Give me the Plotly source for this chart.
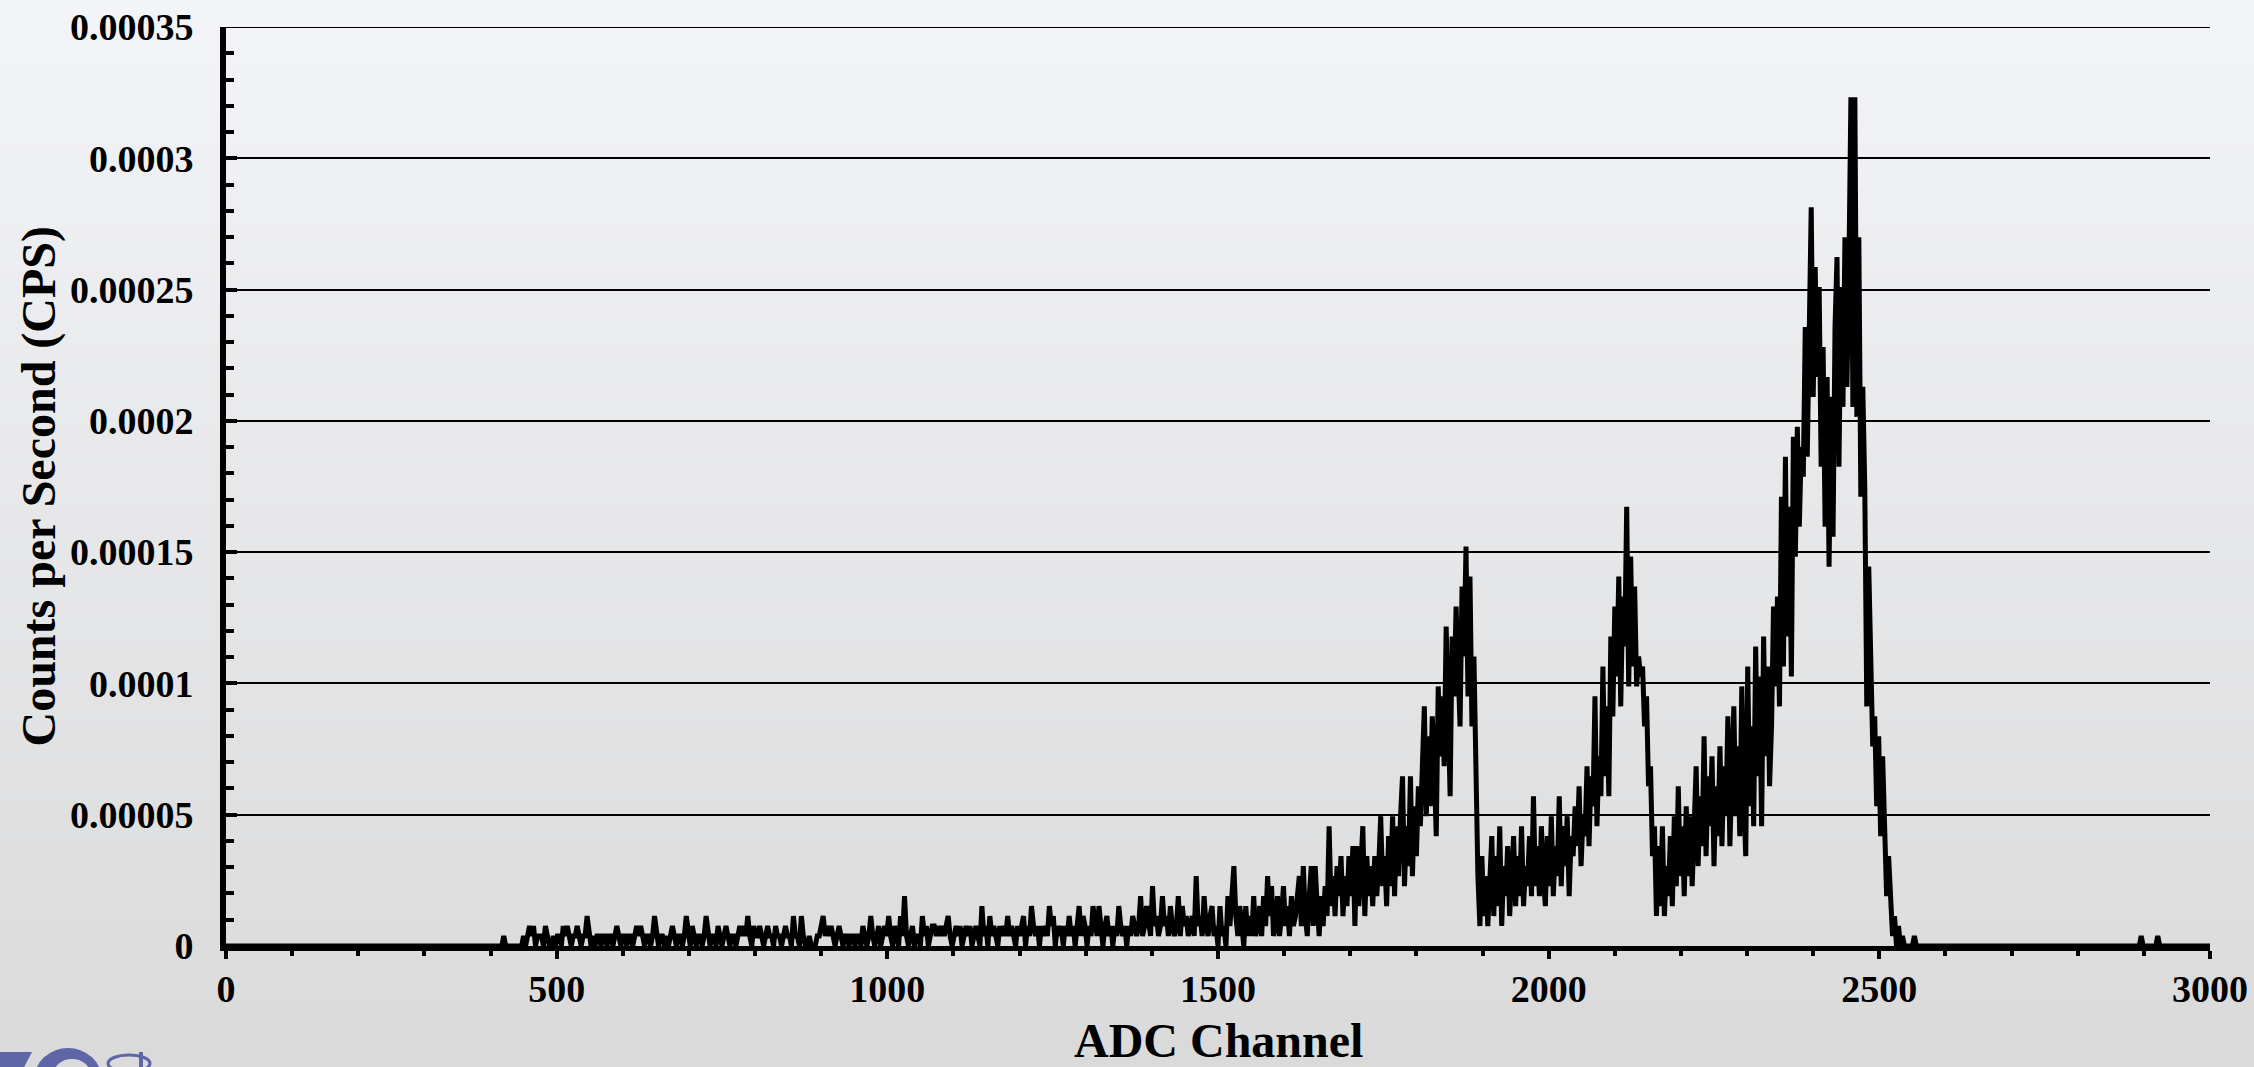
import plotly.graph_objects as go

# ---------------- data ----------------
live_time_s = 263000.0          # one count ~ 3.8e-6 CPS
main_start_channel = 417
channel_step = 3

# counts per sampled channel (every 3rd channel from 417 to 2559)
main_counts = [
    0, 1, 0, 0, 0, 0, 0, 0, 0, 0, 0, 1, 0, 1, 2, 1, 2, 0, 1, 1,
    1, 0, 2, 1, 0, 0, 1, 0, 1, 1, 0, 2, 1, 2, 1, 0, 1, 1, 2, 1,
    0, 1, 1, 3, 1, 0, 1, 0, 1, 1, 0, 1, 1, 0, 1, 1, 0, 1, 2, 1,
    0, 1, 1, 0, 1, 1, 0, 1, 2, 1, 2, 1, 0, 1, 1, 0, 1, 3, 1, 0,
    1, 1, 0, 1, 0, 1, 2, 1, 0, 1, 1, 0, 1, 3, 1, 0, 2, 1, 0, 1,
    1, 0, 1, 3, 1, 0, 1, 1, 0, 2, 1, 0, 1, 2, 1, 0, 1, 1, 0, 1,
    2, 1, 2, 1, 3, 1, 0, 2, 1, 1, 2, 1, 0, 1, 2, 1, 1, 0, 2, 1,
    1, 0, 1, 2, 1, 1, 0, 3, 1, 1, 0, 3, 1, 0, 0, 1, 0, 0, 0, 1,
    1, 2, 3, 1, 2, 1, 2, 1, 0, 1, 2, 1, 0, 1, 1, 0, 1, 1, 0, 1,
    1, 0, 2, 1, 0, 1, 3, 1, 0, 1, 2, 0, 1, 2, 1, 3, 1, 0, 2, 1,
    0, 3, 1, 5, 1, 0, 1, 2, 0, 1, 1, 0, 3, 1, 2, 0, 1, 2, 2, 1,
    2, 1, 2, 1, 2, 3, 1, 0, 1, 2, 1, 2, 0, 1, 2, 1, 2, 0, 1, 2,
    1, 0, 4, 1, 2, 0, 3, 1, 2, 1, 0, 2, 1, 2, 1, 3, 1, 2, 1, 0,
    2, 1, 2, 3, 0, 2, 1, 4, 2, 1, 2, 0, 2, 1, 2, 1, 4, 2, 3, 0,
    2, 1, 2, 0, 2, 1, 3, 1, 2, 0, 2, 4, 1, 3, 2, 0, 2, 1, 4, 2,
    1, 4, 2, 0, 2, 3, 1, 2, 0, 2, 1, 4, 2, 1, 2, 0, 2, 1, 3, 2,
    1, 2, 5, 1, 2, 4, 2, 1, 6, 2, 3, 1, 2, 5, 2, 3, 1, 4, 2, 1,
    2, 5, 1, 4, 2, 3, 1, 2, 3, 1, 7, 2, 3, 1, 5, 2, 1, 3, 4, 1,
    2, 0, 4, 1, 2, 0, 5, 2, 6, 8, 3, 1, 4, 2, 0, 4, 1, 3, 1, 5,
    1, 2, 4, 1, 5, 2, 7, 3, 6, 1, 2, 5, 1, 3, 6, 2, 4, 1, 5, 2,
    3, 5, 7, 2, 8, 3, 1, 5, 8, 2, 8, 4, 1, 5, 2, 6, 3, 12, 4, 7,
    3, 8, 5, 9, 3, 7, 4, 9, 5, 10, 2, 10, 4, 8, 12, 3, 9, 5, 8, 4,
    9, 5, 8, 13, 6, 9, 4, 11, 6, 13, 5, 12, 7, 13, 17, 6, 12, 8, 17, 7,
    14, 9, 16, 12, 20, 24, 13, 21, 14, 23, 18, 11, 26, 19, 25, 18, 32, 21, 15, 31,
    25, 34, 27, 22, 36, 29, 40, 25, 37, 22, 29, 16, 7, 2, 9, 3, 7, 2, 6, 11,
    3, 9, 4, 12, 2, 8, 5, 10, 3, 7, 11, 4, 9, 5, 12, 4, 8, 6, 11, 5,
    15, 6, 10, 5, 12, 7, 4, 11, 6, 13, 5, 10, 7, 15, 6, 12, 8, 13, 5, 11,
    9, 14, 10, 16, 8, 13, 11, 18, 10, 17, 14, 25, 12, 19, 15, 28, 17, 24, 15, 31,
    23, 34, 27, 37, 24, 35, 30, 44, 26, 39, 28, 36, 26, 29, 27, 28, 22, 25, 16, 18,
    9, 12, 3, 10, 4, 12, 3, 8, 5, 11, 4, 13, 6, 16, 7, 12, 5, 14, 7, 13,
    6, 12, 18, 8, 15, 10, 21, 9, 17, 12, 19, 8, 16, 11, 20, 10, 18, 13, 23, 10,
    17, 24, 13, 20, 11, 26, 15, 9, 28, 14, 22, 12, 30, 17, 27, 12, 31, 19, 28, 16,
    22, 34, 26, 35, 24, 45, 28, 49, 31, 44, 27, 51, 39, 52, 42, 50, 47, 62, 49, 59,
    74, 55, 68, 57, 66, 48, 60, 42, 57, 38, 55, 41, 62, 69, 48, 66, 54, 71, 56, 68,
    85, 54, 85, 53, 71, 45, 56, 46, 24, 38, 29, 20, 23, 14, 21, 11, 19, 10, 5, 9,
    4, 1, 3, 0, 2, 0, 1, 0, 0, 0, 0, 0, 1, 0, 0,
]

head_channels = [0]
head_counts = [0]
tail_channels = [2562, 2893, 2896, 2899, 2918, 2921, 2924, 3000]
tail_counts = [0, 0, 1, 0, 0, 1, 0, 0]

x_tick_vals = [0, 500, 1000, 1500, 2000, 2500, 3000]
x_tick_text = ["0", "500", "1000", "1500", "2000", "2500", "3000"]
y_tick_vals = [0, 0.00005, 0.0001, 0.00015, 0.0002, 0.00025, 0.0003, 0.00035]
y_tick_text = ["0", "0.00005", "0.0001", "0.00015", "0.0002", "0.00025", "0.0003", "0.00035"]

x_title = "ADC Channel"
y_title = "Counts per Second (CPS)"

# ---------------- build series ----------------
main_channels = [main_start_channel + channel_step * i for i in range(len(main_counts))]
channels = head_channels + main_channels + tail_channels
counts = head_counts + main_counts + tail_counts
cps = [c / live_time_s for c in counts]

W, H = 2254, 1067
L, R, T, B = 226, 44, 27, 121
plot_h = H - T - B
plot_w = W - L - R

FONT = "Liberation Serif"


def px(xp):
    return (xp - L) / plot_w


def py(yp):
    return (H - B - yp) / plot_h


fig = go.Figure()
fig.add_trace(go.Scatter(
    x=channels, y=cps, mode="lines",
    line=dict(color="#000000", width=5),
    hoverinfo="skip", showlegend=False,
))

# background gradient (page), drawn as thin bands in paper coordinates
shapes = []
top_rgb = (243, 244, 248)
bot_rgb = (218, 218, 218)
n_bands = 80
for k in range(n_bands):
    y0_px = H * k / n_bands
    y1_px = H * (k + 1) / n_bands + 1
    t = (k + 0.5) / n_bands
    col = tuple(round(top_rgb[i] + (bot_rgb[i] - top_rgb[i]) * t) for i in range(3))
    shapes.append(dict(
        type="rect", xref="paper", yref="paper", layer="below",
        x0=px(-5), x1=px(W + 5), y0=py(y1_px), y1=py(y0_px),
        line=dict(width=0), fillcolor="rgb(%d,%d,%d)" % col,
    ))

# top gridline at the last y tick (plotly skips the gridline on the range edge)
shapes.append(dict(
    type="line", xref="x", yref="y", layer="below",
    x0=x_tick_vals[0], x1=x_tick_vals[-1], y0=y_tick_vals[-1], y1=y_tick_vals[-1],
    line=dict(color="#000000", width=2),
))

# partially visible logo in the lower-left corner (clipped by the page edge)
logo_blue = "#5e66a8"
shapes.append(dict(
    type="path", xref="paper", yref="paper", layer="above",
    path="M %f,%f L %f,%f L %f,%f L %f,%f Z" % (
        px(-2), py(1052), px(32), py(1052), px(20), py(1075), px(-2), py(1075)),
    fillcolor=logo_blue, line=dict(width=0),
))
shapes.append(dict(
    type="circle", xref="paper", yref="paper", layer="above",
    x0=px(34), x1=px(102), y0=py(1112), y1=py(1048),
    fillcolor=logo_blue, line=dict(width=0),
))
shapes.append(dict(
    type="circle", xref="paper", yref="paper", layer="above",
    x0=px(54), x1=px(90), y0=py(1088), y1=py(1059),
    fillcolor="rgb(219,219,219)", line=dict(width=0),
))
shapes.append(dict(
    type="circle", xref="paper", yref="paper", layer="above",
    x0=px(108), x1=px(150), y0=py(1072), y1=py(1055),
    fillcolor="rgba(0,0,0,0)", line=dict(color=logo_blue, width=3),
))
shapes.append(dict(
    type="line", xref="paper", yref="paper", layer="above",
    x0=px(141), x1=px(141), y0=py(1052), y1=py(1070),
    line=dict(color=logo_blue, width=4),
))

annotations = [
    dict(text="<b>%s</b>" % x_title, xref="paper", yref="paper",
         x=0.5, y=py(1069), xanchor="center", yanchor="bottom",
         showarrow=False, font=dict(family=FONT, size=48, color="#000000")),
    dict(text="<b>%s</b>" % y_title, xref="paper", yref="paper",
         x=px(38), y=0.5, xanchor="center", yanchor="middle",
         textangle=-90, showarrow=False,
         font=dict(family=FONT, size=48, color="#000000")),
]

fig.update_layout(
    width=W, height=H,
    margin=dict(l=L, r=R, t=T, b=B, pad=0, autoexpand=False),
    paper_bgcolor="rgb(230,231,233)",
    plot_bgcolor="rgba(0,0,0,0)",
    shapes=shapes,
    annotations=annotations,
    showlegend=False,
    xaxis=dict(
        range=[0, 3000], automargin=False,
        tickmode="array", tickvals=x_tick_vals, ticktext=x_tick_text,
        ticks="outside", ticklen=8, tickwidth=4, tickcolor="#000000",
        minor=dict(dtick=100, tick0=0, ticks="outside", ticklen=5, tickwidth=4,
                   tickcolor="#000000", showgrid=False),
        showline=True, linecolor="#000000", linewidth=5,
        showgrid=False, zeroline=False,
        tickfont=dict(family=FONT, size=38, color="#000000", weight="bold"),
        ticklabelstandoff=-3,
    ),
    yaxis=dict(
        range=[0, 0.00035], automargin=False,
        tickmode="array", tickvals=y_tick_vals, ticktext=y_tick_text,
        ticks="inside", ticklen=11, tickwidth=4, tickcolor="#000000",
        minor=dict(dtick=0.00001, tick0=0, ticks="inside", ticklen=8, tickwidth=4,
                   tickcolor="#000000", showgrid=False),
        showline=True, linecolor="#000000", linewidth=6,
        showgrid=True, gridcolor="#000000", gridwidth=2,
        zeroline=False,
        tickfont=dict(family=FONT, size=38, color="#000000", weight="bold"),
        ticklabelstandoff=19,
    ),
)

fig.write_html("out.html")
